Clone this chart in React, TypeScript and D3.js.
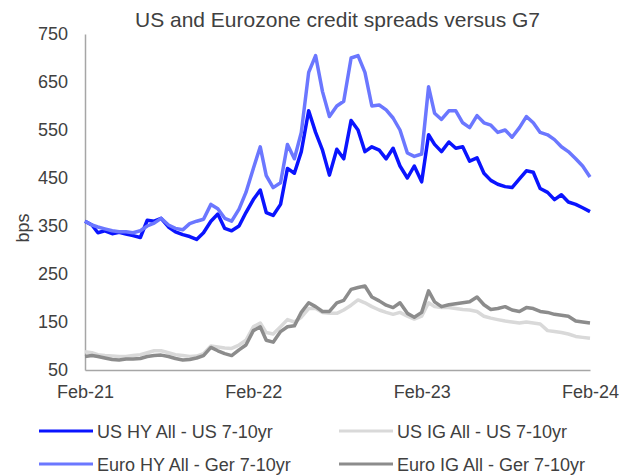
import React, { useEffect, useRef } from 'react';
import * as d3 from 'd3';

// Semi-monthly readings (1st and 16th of each month), Feb-21 .. Feb-24, in bps
const usHY = [
  360, 352, 336, 340, 334, 337, 333, 330, 326, 362, 360, 366, 348, 338, 332, 328, 322, 336, 360, 375,
  345, 340, 350, 378, 405, 425, 378, 372, 395, 470, 460, 505, 590, 545, 508, 456, 510, 490, 570, 550,
  505, 515, 508, 490, 512, 475, 450, 475, 442, 540, 520, 505, 525, 512, 515, 485, 492, 460, 445, 437,
  432, 430, 448, 465, 462, 428, 420, 405, 415, 400, 395, 388, 380
];
const usIG = [
  88, 86, 82, 80, 79, 78, 78, 80, 82, 86, 90, 90, 86, 82, 80, 78, 79, 84, 100, 98,
  96, 95, 102, 112, 140, 148, 128, 125, 140, 155, 150, 160, 178, 178, 170, 168, 168, 175, 185, 196,
  190, 182, 175, 170, 166, 170, 162, 156, 162, 190, 182, 180, 180, 178, 176, 175, 172, 162, 158, 155,
  152, 150, 148, 150, 148, 146, 132, 130, 128, 125, 120, 118, 116
];
const euroHY = [
  360, 352, 348, 344, 340, 338, 338, 336, 340, 350, 356, 366, 352, 345, 342, 355, 360, 364, 395, 386,
  366, 360, 385, 420, 470, 515, 455, 430, 440, 520, 490, 545, 670, 705, 630, 578, 600, 610, 700, 705,
  670, 600, 602, 592, 575, 550, 502, 495, 500, 640, 585, 572, 590, 590, 565, 555, 580, 565, 560, 545,
  550, 535, 555, 578, 565, 545, 540, 530, 515, 505, 490, 475, 452
];
const euroIG = [
  78, 80, 78, 75, 72, 71, 73, 73, 74, 78, 80, 81, 78, 74, 71, 72, 75, 80, 97, 90,
  84, 80, 92, 102, 132, 140, 112, 108, 130, 140, 142, 170, 190, 182, 172, 172, 190, 195, 218, 222,
  225, 202, 194, 185, 180, 190, 168, 160, 170, 215, 192, 182, 186, 188, 190, 192, 202, 186, 176, 178,
  182, 175, 172, 180, 178, 172, 170, 166, 164, 162, 152, 150, 148
];

const seriesNames = [
  'US HY All - US 7-10yr',
  'US IG All - US 7-10yr',
  'Euro HY All - Ger 7-10yr',
  'Euro IG All - Ger 7-10yr'
];
const seriesValues = [usHY, usIG, euroHY, euroIG];
const seriesColors = ['#0a14ff', '#d9d9d9', '#6b77ff', '#8c8c8c'];

const yTicks = [50, 150, 250, 350, 450, 550, 650, 750];
const xTickYears = [2021, 2022, 2023, 2024];

const FONT = '"Liberation Sans", Arial, sans-serif';
const TEXT = '#404040';
const AXIS = '#a6a6a6';

const App: React.FC = () => {
  const svgRef = useRef<SVGSVGElement>(null);

  useEffect(() => {
    if (!svgRef.current) return;
    const width = 619;
    const height = 475;
    const margin = { top: 34, right: 29, bottom: 105, left: 85 };

    const svg = d3.select(svgRef.current);
    svg.selectAll('*').remove();
    svg.attr('width', width).attr('height', height);

    // Dates: 1st and 16th of each month
    const start = new Date(Date.UTC(2021, 1, 1));
    const end = new Date(Date.UTC(2024, 1, 1));
    const months = d3.utcMonth.range(start, end);
    const dates: Date[] = [];
    months.forEach(m => {
      dates.push(m);
      dates.push(d3.utcDay.offset(m, 15));
    });
    dates.push(end);

    const x = d3.scaleUtc().domain([start, end]).range([margin.left, width - margin.right]);
    const y = d3.scaleLinear().domain([50, 750]).range([height - margin.bottom, margin.top]);

    // Title
    svg.append('text')
      .attr('x', 337.5)
      .attr('y', 27)
      .attr('text-anchor', 'middle')
      .attr('font-family', FONT)
      .attr('font-size', 21)
      .attr('fill', TEXT)
      .text('US and Eurozone credit spreads versus G7');

    // Y axis
    const yAxis = svg.append('g')
      .attr('transform', `translate(${margin.left},0)`)
      .call(d3.axisLeft(y).tickValues(yTicks).tickSize(0).tickPadding(17));
    yAxis.select('.domain').attr('stroke', AXIS).attr('stroke-width', 1.5);
    yAxis.selectAll('text')
      .attr('font-family', FONT)
      .attr('font-size', 18)
      .attr('fill', TEXT);

    // X axis
    const xAxis = svg.append('g')
      .attr('transform', `translate(0,${height - margin.bottom})`)
      .call(
        d3.axisBottom(x)
          .tickValues(xTickYears.map(yr => new Date(Date.UTC(yr, 1, 1))))
          .tickFormat(d => d3.utcFormat('%b-%y')(d as Date))
          .tickSize(0)
          .tickPadding(15)
      );
    xAxis.select('.domain').attr('stroke', AXIS).attr('stroke-width', 1.5);
    xAxis.selectAll('text')
      .attr('font-family', FONT)
      .attr('font-size', 18)
      .attr('fill', TEXT);

    // Y axis label
    svg.append('text')
      .attr('transform', 'translate(29,228) rotate(-90)')
      .attr('text-anchor', 'middle')
      .attr('font-family', FONT)
      .attr('font-size', 18)
      .attr('fill', TEXT)
      .text('bps');

    // Lines
    const line = d3.line<number>()
      .x((_, i) => x(dates[i]))
      .y(d => y(d));

    seriesValues.forEach((vals, i) => {
      svg.append('path')
        .datum(vals)
        .attr('fill', 'none')
        .attr('stroke', seriesColors[i])
        .attr('stroke-width', 3.5)
        .attr('stroke-linejoin', 'round')
        .attr('d', line);
    });

    // Legend (2 x 2)
    const legendCols = [39, 339];
    const legendRows = [431, 464];
    seriesNames.forEach((name, i) => {
      const cx = legendCols[i % 2];
      const cy = legendRows[Math.floor(i / 2)];
      const g = svg.append('g');
      g.append('line')
        .attr('x1', cx).attr('x2', cx + 54)
        .attr('y1', cy).attr('y2', cy)
        .attr('stroke', seriesColors[i])
        .attr('stroke-width', 3);
      g.append('text')
        .attr('x', cx + 58)
        .attr('y', cy + 6.5)
        .attr('font-family', FONT)
        .attr('font-size', 18)
        .attr('fill', TEXT)
        .text(name);
    });
  }, []);

  return (
    <svg
      ref={svgRef}
      style={{ position: 'absolute', left: 0, top: 0, display: 'block', background: '#fff' }}
    />
  );
};

export default App;
